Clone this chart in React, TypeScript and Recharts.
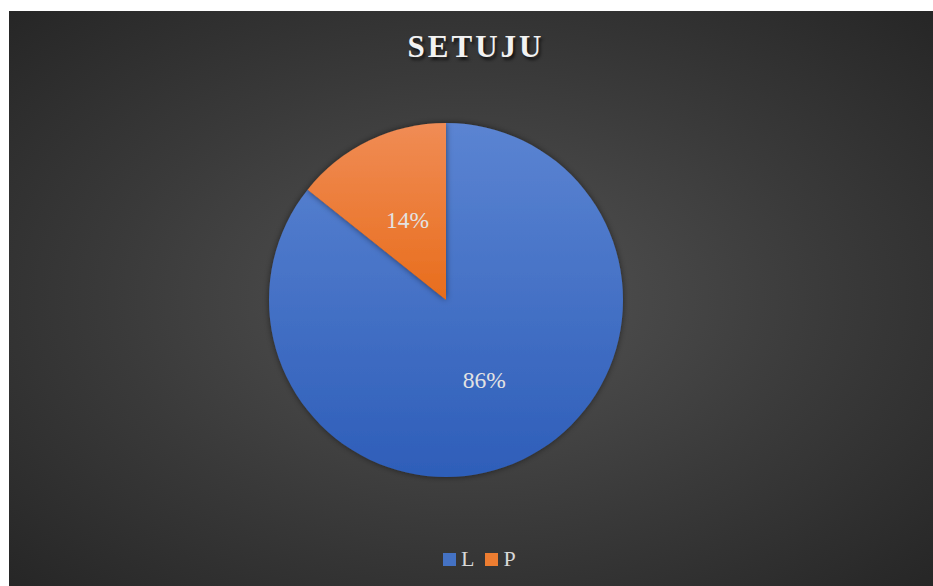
import React from 'react';
import { PieChart, Pie, Cell } from 'recharts';

const categories = ['L', 'P'];
const counts = [12, 2];
const colors = ['#4472c4', '#ed7d31'];
const chartTitle = 'SETUJU';

const data = categories.map((name, i) => ({ name, value: counts[i] }));
const total = counts.reduce((a, b) => a + b, 0);

const RADIAN = Math.PI / 180;

const renderLabel = (props: any) => {
  const { cx, cy, midAngle, outerRadius, value } = props;
  const r = outerRadius * 0.5;
  const x = cx + r * Math.cos(-midAngle * RADIAN);
  const y = cy + r * Math.sin(-midAngle * RADIAN);
  return (
    <text
      x={x}
      y={y}
      fill="#e3e3e3"
      textAnchor="middle"
      dominantBaseline="central"
      fontFamily="'Liberation Serif', 'Times New Roman', serif"
      fontSize={23.5}
    >
      {Math.round((value / total) * 100)}%
    </text>
  );
};

export default function App() {
  return (
    <div
      style={{
        position: 'absolute',
        left: 9,
        top: 11,
        width: 924,
        height: 575,
        background: 'radial-gradient(ellipse farthest-corner at 50% 50%, #545454 0%, #3a3a3a 55%, #262626 100%)',
        fontFamily: "'Liberation Serif', 'Times New Roman', serif",
      }}
    >
      <div
        style={{
          position: 'absolute',
          top: 18,
          left: 1,
          width: 932,
          textAlign: 'center',
          fontSize: 31,
          fontWeight: 'bold',
          letterSpacing: 3,
          color: '#f2f2f2',
          textShadow: '2px 3px 3px rgba(0,0,0,0.65)',
        }}
      >
        {chartTitle}
      </div>
      <PieChart width={924} height={575} margin={{ top: 0, right: 0, bottom: 0, left: 0 }}>
        <defs>
          <linearGradient id="gradL" x1="0" y1="0" x2="0" y2="1">
            <stop offset="0%" stopColor="#5b84d2" />
            <stop offset="100%" stopColor="#2e5eb9" />
          </linearGradient>
          <linearGradient id="gradP" x1="0" y1="0" x2="0" y2="1">
            <stop offset="0%" stopColor="#f08c55" />
            <stop offset="100%" stopColor="#e86d1c" />
          </linearGradient>
          <filter id="pieShadow" x="-20%" y="-20%" width="140%" height="140%">
            <feDropShadow dx="0" dy="0" stdDeviation="3" floodColor="#000" floodOpacity="0.5" />
          </filter>
        </defs>
        <Pie
          data={data}
          dataKey="value"
          nameKey="name"
          cx={437}
          cy={289}
          outerRadius={177}
          startAngle={90}
          endAngle={-270}
          stroke="none"
          label={renderLabel}
          labelLine={false}
          isAnimationActive={false}
          style={{ filter: 'url(#pieShadow)' }}
        >
          {data.map((d) => (
            <Cell key={d.name} fill={d.name === 'L' ? 'url(#gradL)' : 'url(#gradP)'} />
          ))}
        </Pie>
      </PieChart>
      <div
        style={{
          position: 'absolute',
          top: 535,
          left: 434,
          display: 'flex',
          alignItems: 'center',
          fontSize: 22,
          color: '#d9d9d9',
        }}
      >
        {categories.map((c, i) => (
          <div key={c} style={{ display: 'flex', alignItems: 'center', marginRight: 11 }}>
            <span style={{ display: 'inline-block', width: 13, height: 13, background: colors[i], marginRight: 5 }} />
            <span>{c}</span>
          </div>
        ))}
      </div>
    </div>
  );
}
